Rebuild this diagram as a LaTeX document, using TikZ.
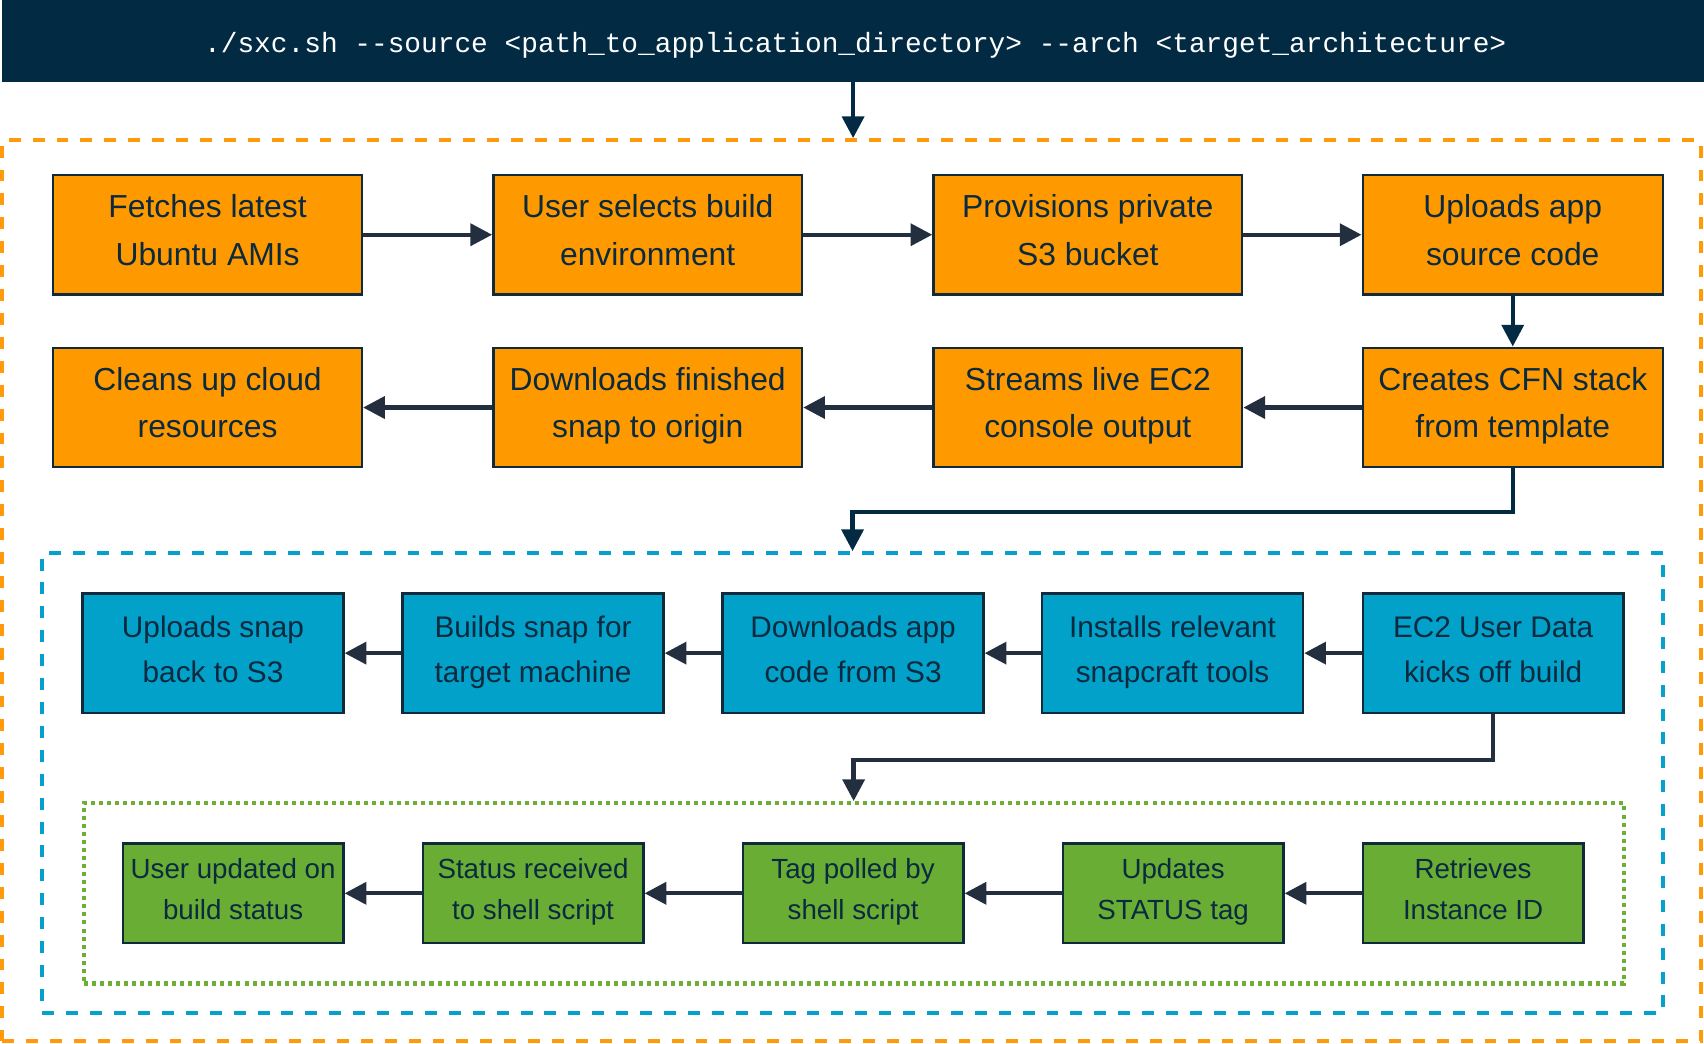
\documentclass[tikz,border=0pt]{standalone}
\usepackage{fontspec}
\setmainfont{Liberation Sans}
\newfontfamily\monofont{Liberation Mono}
\usetikzlibrary{arrows.meta}
\definecolor{navy}{HTML}{022B43}
\definecolor{txt}{HTML}{0B2A40}
\definecolor{edge}{HTML}{0E2A3B}
\definecolor{arrc}{HTML}{232F3E}
\definecolor{aorange}{HTML}{FF9900}
\definecolor{ablue}{HTML}{01A1C9}
\definecolor{agreen}{HTML}{69AD35}
\definecolor{dorange}{HTML}{FF9A0A}
\definecolor{dblue}{HTML}{05A0CC}
\definecolor{dgreen}{HTML}{6CB033}
\tikzset{
  x=1pt, y=-1pt,
  boxbase/.style={draw=edge, line width=2.2pt, align=center, text=txt, inner sep=0pt},
  obox/.style={boxbase, fill=aorange, minimum height=110pt, minimum width=284pt,
    font=\fontsize{29.3}{43.5}\selectfont,
    execute at begin node=\rule{0pt}{34.1pt}, execute at end node=\rule[-8.9pt]{0pt}{8.9pt}},
  bbox/.style={boxbase, fill=ablue, minimum height=110pt, minimum width=240pt,
    font=\fontsize{27.4}{41.4}\selectfont,
    execute at begin node=\rule{0pt}{34.2pt}, execute at end node=\rule[-7.2pt]{0pt}{7.2pt}},
  gbox/.style={boxbase, fill=agreen, minimum height=92pt, minimum width=203pt,
    font=\fontsize{25.5}{37.7}\selectfont,
    execute at begin node=\rule{0pt}{29pt}, execute at end node=\rule[-8.7pt]{0pt}{8.7pt}},
  arr/.style={draw=arrc, line width=4pt, -{Triangle[length=20pt,width=20pt]}},
  arrn/.style={arr, draw=navy},
  grp/.style={inner sep=0pt, fill=none},
}
\begin{document}
\begin{tikzpicture}
\useasboundingbox (0,0) rectangle (1568,960);
% header
\node[fill=navy, minimum width=1566pt, minimum height=75pt, inner sep=0pt] (head) at (785,37.5) {};
\node[text=white, font=\monofont\fontsize{25.6}{30}\selectfont, anchor=base, inner sep=0pt]
  (cmd) at (787,48)
  {./sxc.sh -{}-source <path\_to\_application\_directory> -{}-arch <target\_architecture>};
% containers
\node[grp, draw=dorange, line width=3.7pt, dash pattern=on 11pt off 11pt,
  minimum width=1563pt, minimum height=829pt] (outer) at (783.5,543.5) {};
\node[grp, draw=dblue, line width=3.7pt, dash pattern=on 11pt off 11pt,
  minimum width=1491pt, minimum height=423pt] (blue) at (784.5,720.5) {};
\node[grp, draw=dgreen, line width=3.7pt, dash pattern=on 3.7pt off 3.7pt,
  minimum width=1417pt, minimum height=166pt] (green) at (785.5,822) {};
% row 1
\node[obox] (fetch) at (191,216) {Fetches latest\\Ubuntu AMIs};
\node[obox] (sel) at (596,216) {User selects build\\environment};
\node[obox] (prov) at (1001,216) {Provisions private\\S3 bucket};
\node[obox, minimum width=276pt] (upl) at (1392,216) {Uploads app\\source code};
% row 2
\node[obox] (clean) at (191,375) {Cleans up cloud\\resources};
\node[obox] (down) at (596,375) {Downloads finished\\snap to origin};
\node[obox] (stream) at (1001,375) {Streams live EC2\\console output};
\node[obox, minimum width=276pt] (cfn) at (1392,375) {Creates CFN stack\\from template};
% row 3
\node[bbox] (ups3) at (196,601) {Uploads snap\\back to S3};
\node[bbox] (build) at (490.5,601) {Builds snap for\\target machine};
\node[bbox] (dlapp) at (785,601) {Downloads app\\code from S3};
\node[bbox] (inst) at (1079,601) {Installs relevant\\snapcraft tools};
\node[bbox] (ec2) at (1374,601) {EC2 User Data\\kicks off build};
% row 4
\node[gbox] (user) at (214.5,822) {User updated on\\build status};
\node[gbox] (status) at (490.5,822) {Status received\\to shell script};
\node[gbox] (tag) at (785,822) {Tag polled by\\shell script};
\node[gbox] (upd) at (1079.5,822) {Updates\\STATUS tag};
\node[gbox] (ret) at (1355.5,822) {Retrieves\\Instance ID};
% connectors
\draw[arrn] (head.south) -- (head.south |- outer.north);
\draw[arr] (fetch) -- (sel);
\draw[arr] (sel) -- (prov);
\draw[arr] (prov) -- (upl);
\draw[arrn] (upl) -- (cfn);
\draw[arr] (cfn) -- (stream);
\draw[arr] (stream) -- (down);
\draw[arr] (down) -- (clean);
\draw[arrn] (cfn.south) -- ++(0,40) -| (blue.north);
\draw[arr] (ec2) -- (inst);
\draw[arr] (inst) -- (dlapp);
\draw[arr] (dlapp) -- (build);
\draw[arr] (build) -- (ups3);
\draw[arr] (ec2.south) -- ++(0,42) -| (green.north);
\draw[arr] (ret) -- (upd);
\draw[arr] (upd) -- (tag);
\draw[arr] (tag) -- (status);
\draw[arr] (status) -- (user);
\end{tikzpicture}
\end{document}
